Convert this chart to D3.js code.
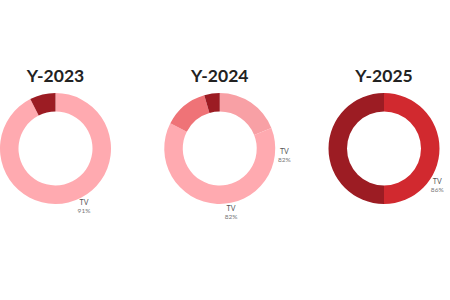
<!DOCTYPE html>
<html>
<head>
<meta charset="utf-8">
<script src="https://cdn.jsdelivr.net/npm/d3@7"></script>
<style>
  html, body { margin: 0; padding: 0; background: #fff; }
</style>
</head>
<body>
<div id="chart"></div>
<script>
const years = ["Y-2023", "Y-2024", "Y-2025"];

// slice values (percent), clockwise from 12 o'clock
const values2023 = [92.5, 7.5];
const values2024 = [19, 63.5, 13, 4.5];
const values2025 = [50, 50];

const colors2023 = ["#ffaab0", "#9c1c23"];
const colors2024 = ["#f8a0a5", "#ffaab0", "#ef7377", "#9c1c23"];
const colors2025 = ["#d1292f", "#9c1c23"];

// labels: name, percent text, angle (degrees clockwise from top)
const labelNames = [["TV"], ["TV", "TV"], ["TV"]];
const labelPcts = [["91%"], ["82%", "82%"], ["86%"]];
const labelAngles = [[154], [96, 170], [125]];

const donuts = [
    { year: years[0], values: values2023, colors: colors2023 },
    { year: years[1], values: values2024, colors: colors2024 },
    { year: years[2], values: values2025, colors: colors2025 }
];

const width = 450;
const height = 300;
const outerR = 55.5;
const innerR = 37;
const cy = 148.5;

const x = d3.scalePoint()
    .domain(years)
    .range([55.5, 384])

const svg = d3.select("#chart")
    .append("svg")
    .attr("width", width)
    .attr("height", height)
    .attr("viewBox", [0, 0, width, height])
    .style("font-family", "Lato, 'Open Sans', sans-serif");

const pie = d3.pie().sort(null).value((d) => d);
const arc = d3.arc().innerRadius(innerR).outerRadius(outerR);
const labelR = 65;

donuts.forEach((donut, i) => {
    const g = svg.append("g")
        .attr("transform", `translate(${x(donut.year)},${cy})`);

    svg.append("text")
        .attr("x", x(donut.year))
        .attr("y", 82)
        .attr("text-anchor", "middle")
        .attr("fill", "#222")
        .style("font-size", "17.5px")
        .style("font-weight", 700)
        .text(donut.year);

    g.selectAll("path")
        .data(pie(donut.values))
        .join("path")
        .attr("d", arc)
        .attr("fill", (d, j) => donut.colors[j]);

    const labels = labelAngles[i].map((a, j) => ({
        angle: a * Math.PI / 180,
        name: labelNames[i][j],
        pct: labelPcts[i][j]
    }));

    const lab = g.selectAll("g.lab")
        .data(labels)
        .join("g")
        .attr("class", "lab")
        .attr("transform", (d) => `translate(${labelR * Math.sin(d.angle)},${-labelR * Math.cos(d.angle)})`);

    lab.append("text")
        .attr("text-anchor", "middle")
        .attr("y", -1.5)
        .attr("fill", "#555")
        .style("font-size", "7px")
        .text((d) => d.name);

    lab.append("text")
        .attr("text-anchor", "middle")
        .attr("y", 6.5)
        .attr("fill", "#777")
        .style("font-size", "6.5px")
        .text((d) => d.pct);
});
</script>
</body>
</html>
